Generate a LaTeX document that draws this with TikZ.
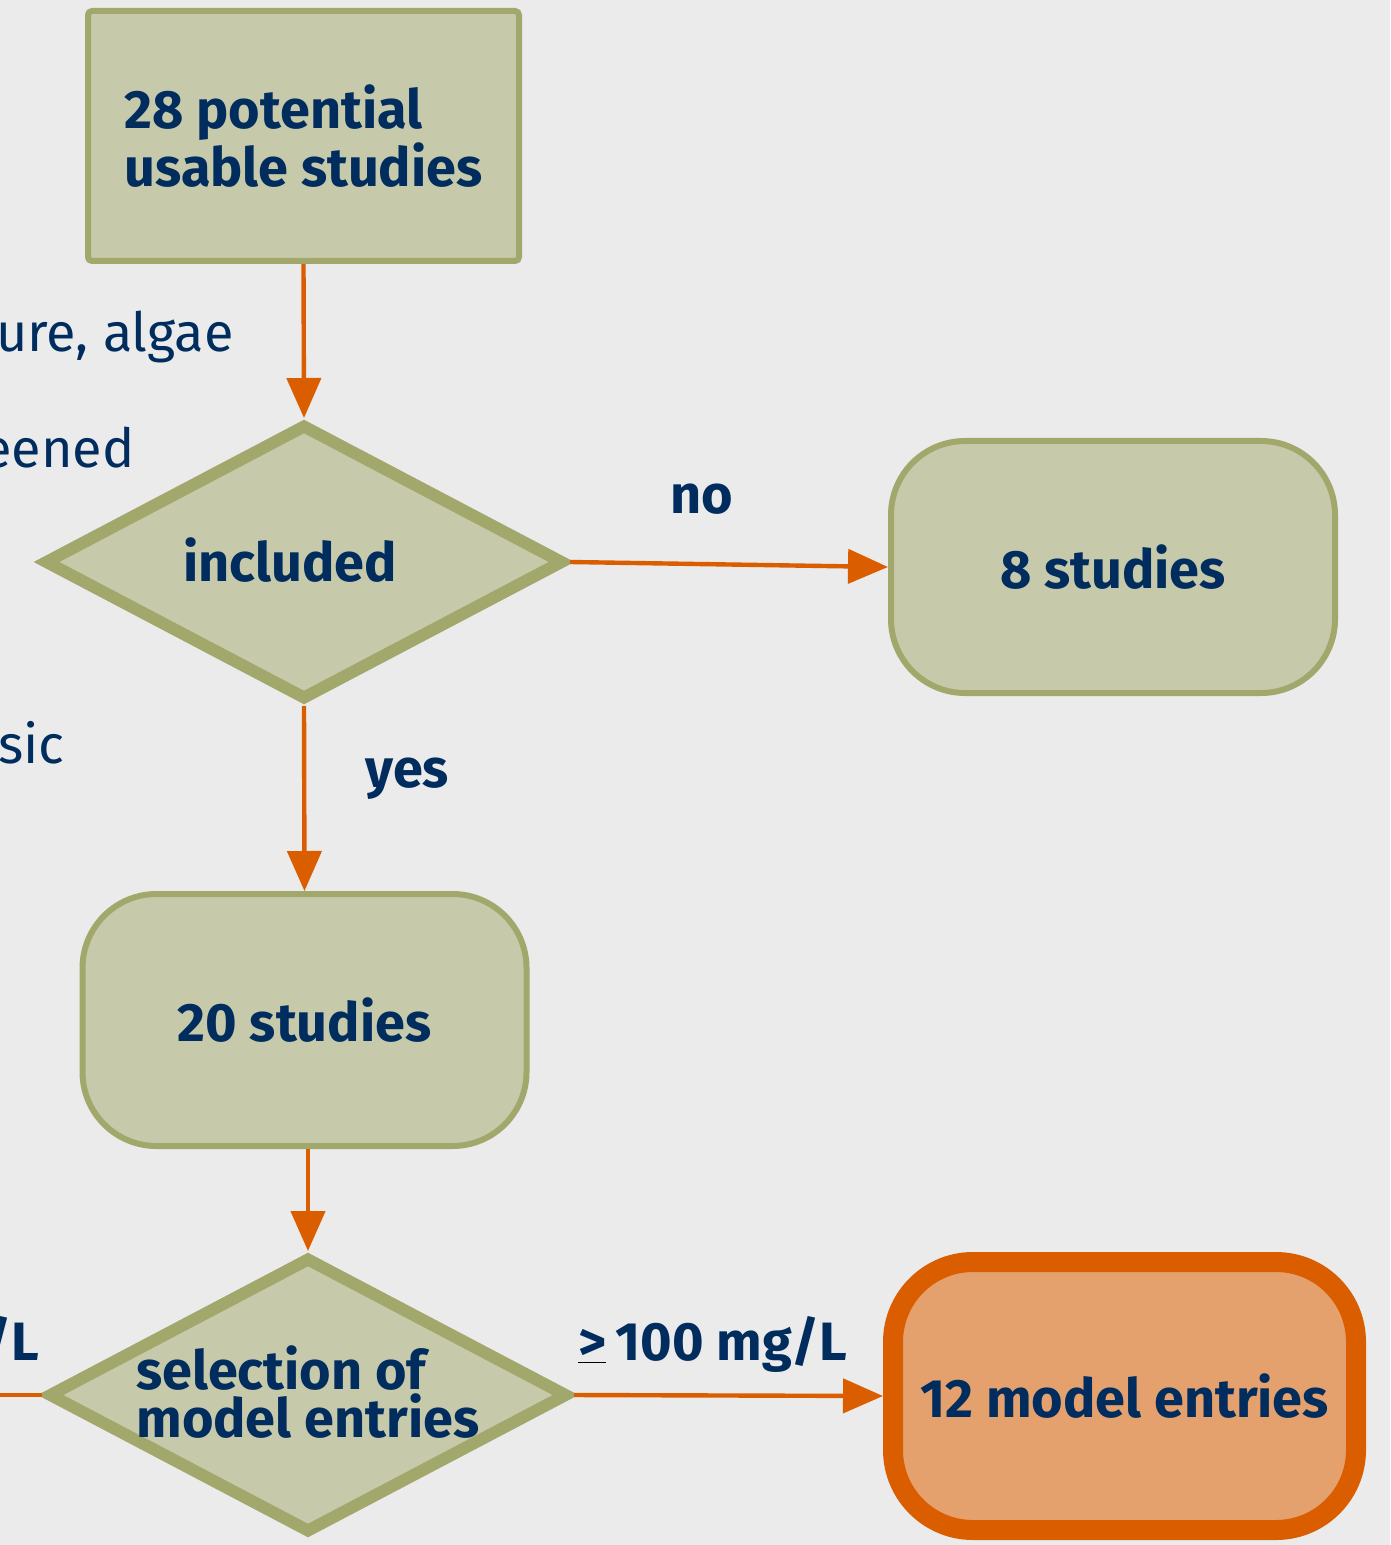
\documentclass[tikz,border=0pt]{standalone}
\usepackage{fontspec}
\setmainfont{Fira Sans}
\usetikzlibrary{shapes.geometric,arrows.meta}
\definecolor{bgc}{HTML}{EBEBEB}
\definecolor{olivefill}{HTML}{C7CAAA}
\definecolor{oliveline}{HTML}{A2A86C}
\definecolor{navy}{HTML}{002C5E}
\definecolor{orng}{HTML}{DA5D00}
\definecolor{orngfill}{HTML}{E5A16D}
\begin{document}
\begin{tikzpicture}[x=0.5pt,y=-0.5pt,
  txt/.style={text=navy, font=\fontsize{27}{24}\selectfont\bfseries},
  side/.style={text=navy, font=\fontsize{27}{24}\selectfont, inner sep=0pt, anchor=base east},
  startbox/.style={rectangle, draw=oliveline, fill=olivefill, line width=3pt, rounded corners=2pt, minimum width=215.5pt, minimum height=125pt, inner sep=0pt, align=left, txt},
  roundbox/.style={rectangle, draw=oliveline, fill=olivefill, line width=3pt, rounded corners=37pt, minimum width=222pt, minimum height=126pt, inner sep=0pt, txt},
  finalbox/.style={rectangle, draw=orng, fill=orngfill, line width=10pt, rounded corners=40pt, minimum width=231.5pt, minimum height=134pt, inner sep=0pt, txt},
  decision/.style={diamond, draw=oliveline, fill=olivefill, line width=6pt, minimum width=260pt, minimum height=138pt, inner sep=0pt},
  flow/.style={draw=orng, line width=2.2pt, -{Triangle[length=20pt,width=17pt]}},
  edgelbl/.style={txt, inner sep=0pt},
]
\fill[bgc] (0,0) rectangle (1390,1545);
\useasboundingbox (0,0) rectangle (1390,1545);

% side texts (cut at the left edge, as in the reference)
\node[side] (s1) at (234,352) {ure, algae};
\node[side] (s2) at (135,467) {eened};
\node[side] (s3) at (65,763) {sic};
\node[side, font=\fontsize{27}{24}\selectfont\bfseries] (s4) at (40,1360) {/L};

% nodes
\node[startbox] (r1) at (303.5,136) {28 potential\\usable studies};
\node[decision] (d1) at (304,562) {};
\node[roundbox] (s8) at (1113,567) {8 studies};
\node[roundbox] (s20) at (304.5,1020) {20 studies};
\node[decision] (d2) at (308,1395) {};
\node[finalbox] (m12) at (1124.5,1396) {12 model entries};

% diamond texts
\node[txt, inner sep=0pt] (t1) at (290,560) {included};
\node[txt, inner sep=0pt, align=left, anchor=west] (t2) at (136,1392) {selection of\\model entries};

% connectors
\draw[flow] (r1.south) -- (d1.north);
\draw[flow] (d1.east) -- (s8.west);
\draw[flow] (d1.south) -- (s20.north);
\draw[flow] (d2.north |- s20.south) -- (d2.north);
\draw[flow] (d2.east) -- (m12.west);
\coordinate (leftin) at (0,1395);
\draw[draw=orng, line width=1.6pt] (leftin) -- (d2.west);

% edge labels
\node[edgelbl, anchor=base] (lno) at (702,513) {no};
\node[edgelbl, anchor=base west] (lyes) at (365,787) {yes};
\node[edgelbl, anchor=base west] (lmg) at (578,1360) {{\color{black}\underline{\color{navy}>}}\,100 mg/L};
\end{tikzpicture}
\end{document}
